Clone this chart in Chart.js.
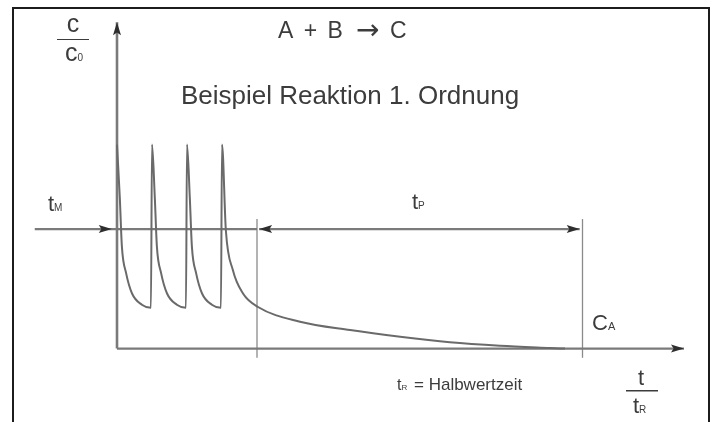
<!DOCTYPE html>
<html>
<head>
<meta charset="utf-8">
<script src="https://cdn.jsdelivr.net/npm/chart.js@4"></script>
<style>
  html, body { margin: 0; padding: 0; background: #fff; }
  canvas { display: block; }
</style>
</head>
<body>
<canvas id="myChart" width="716" height="422"></canvas>
<script>
// Kurve c/c0 über t/tR (vier Dosierungen, danach Abklingen 1. Ordnung)
const curveT = [0, 0.08, 0.14, 0.26, 0.43, 0.71, 0.97,
                1.0, 1.08, 1.14, 1.26, 1.43, 1.71, 1.97,
                2.0, 2.08, 2.14, 2.26, 2.43, 2.71, 2.97,
                3.0, 3.11, 3.31, 3.6, 4.03,
                5.23, 6.66, 8.09, 9.51, 10.94, 12.37, 12.8];
const curveC = [1.0, 0.74, 0.50, 0.37, 0.27, 0.215, 0.2,
                1.0, 0.74, 0.50, 0.37, 0.27, 0.215, 0.2,
                1.0, 0.74, 0.50, 0.37, 0.27, 0.215, 0.2,
                1.0, 0.58, 0.385, 0.27, 0.204,
                0.132, 0.091, 0.058, 0.031, 0.014, 0.003, 0];

// Achsen
const tAxis = [0, 16.2];
const cAxis = [0, 1.6];

// Zeitabschnitte tM und tP
const tmRange = [-2.35, -0.15, 4.0];
const tpRange = [4.06, 13.22];
const timeLevel = 0.586;

// senkrechte Markierungen
const markerT = [4.0, 13.3];
const markerC = [-0.045, 0.635];

const lineGray = "#7a7a7a";
const textColor = "#3c3c3c";
const fontFam = '"Liberation Sans", Arial, sans-serif';

function seg(xs, ys) {
  return xs.map((x, i) => ({ x: x, y: ys[i] }));
}

const arrowPlugin = {
  id: "arrows",
  afterDatasetsDraw(chart) {
    const ctx = chart.ctx;
    chart.data.datasets.forEach((ds, i) => {
      if (!ds.arrows) return;
      const pts = chart.getDatasetMeta(i).data;
      ds.arrows.forEach(a => {
        const p = pts[a[0]], q = pts[a[1]];
        const ang = Math.atan2(p.y - q.y, p.x - q.x);
        const len = 13, half = 4;
        ctx.save();
        ctx.translate(p.x, p.y);
        ctx.rotate(ang);
        ctx.fillStyle = "#2e2e2e";
        ctx.beginPath();
        ctx.moveTo(0, 0);
        ctx.lineTo(-len, -half);
        ctx.lineTo(-len * 0.8, 0);
        ctx.lineTo(-len, half);
        ctx.closePath();
        ctx.fill();
        ctx.restore();
      });
    });
  }
};

function sub(ctx, main, s, x, y, size, subSize) {
  ctx.font = size + "px " + fontFam;
  ctx.fillText(main, x, y);
  const w = ctx.measureText(main).width;
  ctx.font = subSize + "px " + fontFam;
  ctx.fillText(s, x + w, y);
}

const textPlugin = {
  id: "texts",
  afterDraw(chart) {
    const ctx = chart.ctx;
    ctx.save();
    ctx.fillStyle = textColor;
    ctx.textBaseline = "alphabetic";

    // Rahmen
    ctx.strokeStyle = "#1c1c1c";
    ctx.lineWidth = 2;
    ctx.strokeRect(13, 8, 696, 440);

    // c / c0
    ctx.textAlign = "center";
    ctx.font = "25px " + fontFam;
    ctx.fillText("c", 73, 32);
    ctx.fillRect(57, 39, 32, 1);
    ctx.textAlign = "left";
    sub(ctx, "c", "0", 65, 61, 25, 10);

    // Überschriften
    ctx.textAlign = "left";
    ctx.font = "23px " + fontFam;
    ctx.letterSpacing = "2px";
    ctx.fillText("A + B", 278, 38);
    ctx.letterSpacing = "0px";
    ctx.font = '28px "DejaVu Sans", sans-serif';
    ctx.fillText("\u2192", 356, 39);
    ctx.font = "23px " + fontFam;
    ctx.fillText("C", 390, 38);
    ctx.textAlign = "center";
    ctx.font = "26px " + fontFam;
    ctx.fillText("Beispiel Reaktion 1. Ordnung", 350, 104);

    // tM, tP, CA
    ctx.textAlign = "left";
    sub(ctx, "t", "M", 48, 211, 22, 10);
    sub(ctx, "t", "P", 412, 209, 22, 10);
    sub(ctx, "C", "A", 592, 330, 22, 11);

    // t / tR
    ctx.textAlign = "center";
    ctx.font = "22px " + fontFam;
    ctx.fillText("t", 641, 385);
    ctx.fillRect(626, 390, 32, 1.5);
    ctx.textAlign = "left";
    sub(ctx, "t", "R", 633, 413, 22, 10);

    // Legende unten
    sub(ctx, "t", "R", 397, 390, 16, 8);
    ctx.font = "17px " + fontFam;
    ctx.fillText("= Halbwertzeit", 414, 390);
    ctx.restore();
  }
};

window.onload = function() {
  const ctx = document.getElementById("myChart").getContext("2d");
  new Chart(ctx, {
    type: "scatter",
    data: {
      datasets: [
        {
          data: seg(curveT, curveC),
          borderColor: "#6a6a6a", borderWidth: 2,
          showLine: true, pointRadius: 0, cubicInterpolationMode: "monotone"
        },
        {
          data: seg(tAxis, [0, 0]),
          borderColor: lineGray, borderWidth: 2.2,
          showLine: true, pointRadius: 0, arrows: [[1, 0]]
        },
        {
          data: seg([0, 0], cAxis),
          borderColor: lineGray, borderWidth: 2.6,
          showLine: true, pointRadius: 0, arrows: [[1, 0]]
        },
        {
          data: seg(tmRange, tmRange.map(() => timeLevel)),
          borderColor: lineGray, borderWidth: 2.2,
          showLine: true, pointRadius: 0, arrows: [[1, 0]]
        },
        {
          data: seg(tpRange, tpRange.map(() => timeLevel)),
          borderColor: lineGray, borderWidth: 2.2,
          showLine: true, pointRadius: 0, arrows: [[0, 1], [1, 0]]
        },
        {
          data: seg([markerT[0], markerT[0]], markerC),
          borderColor: "#8a8a8a", borderWidth: 1.3,
          showLine: true, pointRadius: 0
        },
        {
          data: seg([markerT[1], markerT[1]], markerC),
          borderColor: "#8a8a8a", borderWidth: 1.3,
          showLine: true, pointRadius: 0
        }
      ]
    },
    options: {
      responsive: false,
      animation: false,
      layout: { padding: { left: 12, right: 4, top: 12, bottom: 2 } },
      plugins: { legend: { display: false }, tooltip: { enabled: false } },
      scales: {
        x: { type: "linear", min: -3, max: 17, display: false },
        y: { type: "linear", min: -0.35, max: 1.65, display: false }
      }
    },
    plugins: [arrowPlugin, textPlugin]
  });
};
</script>
</body>
</html>
